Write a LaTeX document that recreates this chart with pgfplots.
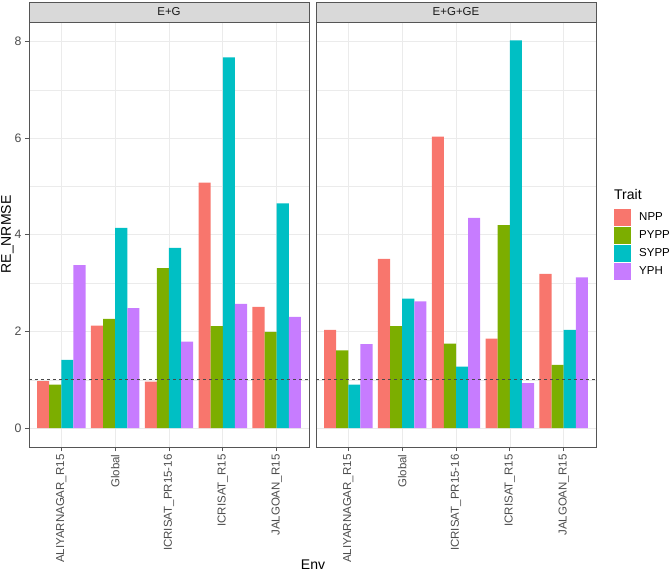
\documentclass[border=0pt]{standalone}
\usepackage{pgfplots}
\pgfplotsset{compat=1.18}
\usepackage{fontspec}
\setmainfont{Liberation Sans}
\definecolor{npp}{HTML}{F8766D}
\definecolor{pypp}{HTML}{7CAE00}
\definecolor{sypp}{HTML}{00BFC4}
\definecolor{yph}{HTML}{C77CFF}
\definecolor{tickgray}{HTML}{4D4D4D}
\definecolor{bordergray}{HTML}{555555}
\definecolor{dashgray}{HTML}{4A4A4A}
\definecolor{gridgray}{HTML}{EBEBEB}
\definecolor{stripgray}{HTML}{D9D9D9}
\definecolor{striptext}{HTML}{1A1A1A}
\pgfplotsset{
  panel/.style={
    scale only axis, width=280pt, height=425pt,
    xmin=0.4, xmax=5.6, ymin=-0.39, ymax=8.4,
    xtick={1,2,3,4,5},
    xticklabels={ALIYARNAGAR\_R15, Global, ICRISAT\_PR15-16, ICRISAT\_R15, JALGOAN\_R15},
    x tick label style={rotate=90, anchor=east, font=\fontsize{11.5}{12}\selectfont, text=tickgray},
    y tick label style={font=\fontsize{12.3}{13}\selectfont, text=tickgray},
    /pgf/number format/assume math mode=true,
    ytick={0,2,4,6,8}, minor ytick={1,3,5,7},
    xmajorgrids, ymajorgrids, yminorgrids,
    major grid style={gridgray, line width=0.7pt},
    minor grid style={gridgray, line width=0.35pt},
    axis line style={bordergray, line width=0.9pt},
    tick align=outside, major tick length=4pt, minor tick length=0pt,
    tick style={bordergray, line width=0.8pt},
    xtick pos=lower,
    ybar, bar width=0.225,
    clip=false,
  },
  bar1/.style={fill=npp, draw=none, bar shift=-0.3375},
  bar2/.style={fill=pypp, draw=none, bar shift=-0.1125},
  bar3/.style={fill=sypp, draw=none, bar shift=0.1125},
  bar4/.style={fill=yph, draw=none, bar shift=0.3375},
  refline/.style={sharp plot, forget plot, no marks, dashgray, line width=1pt, dash pattern=on 3pt off 3pt},
}
\begin{document}
\begin{tikzpicture}[x=1pt,y=1pt]
\useasboundingbox (0,0) rectangle (671,573);
% Left panel: E+G
\begin{axis}[panel, at={(29pt,126pt)}, anchor=south west,
  ytick pos=left,
  ylabel={RE\_NRMSE},
  ylabel style={at={(axis description cs:-0.0768,0.5)}, anchor=center, font=\fontsize{14}{16}\selectfont},
  xlabel={Env},
  xlabel style={at={(axis description cs:1.0143,-0.2776)}, anchor=center, font=\fontsize{14}{16}\selectfont},
]
\addplot[bar1] coordinates {(1,0.97) (2,2.12) (3,0.96) (4,5.08) (5,2.51)};
\addplot[bar2] coordinates {(1,0.90) (2,2.26) (3,3.31) (4,2.11) (5,1.99)};
\addplot[bar3] coordinates {(1,1.41) (2,4.14) (3,3.73) (4,7.67) (5,4.65)};
\addplot[bar4] coordinates {(1,3.37) (2,2.48) (3,1.79) (4,2.57) (5,2.30)};
\addplot[refline] coordinates {(0.4,1) (5.6,1)};
\draw[fill=stripgray, draw=bordergray, line width=0.9pt] (rel axis cs:0,1) rectangle (rel axis cs:1,1.04706);
\node[font=\fontsize{11.5}{12}\selectfont, text=striptext] at (rel axis cs:0.5,1.02353) {E+G};
\end{axis}
% Right panel: E+G+GE
\begin{axis}[panel, at={(316pt,126pt)}, anchor=south west,
  yticklabels={}, ytick style={draw=none},
  legend style={at={(rel axis cs:1.0643,0.56)}, anchor=north west, draw=none, fill=none,
    inner sep=0pt, row sep=1pt, column sep=8pt,
    font=\fontsize{11.5}{12}\selectfont, nodes={inner sep=0pt, anchor=west}},
  legend cell align=left,
  legend image code/.code={\fill[#1] (0pt,-8.5pt) rectangle (17pt,8.5pt);},
]
\addplot[bar1] coordinates {(1,2.03) (2,3.50) (3,6.03) (4,1.85) (5,3.19)};
\addplot[bar2] coordinates {(1,1.61) (2,2.11) (3,1.75) (4,4.20) (5,1.31)};
\addplot[bar3] coordinates {(1,0.90) (2,2.68) (3,1.27) (4,8.02) (5,2.03)};
\addplot[bar4] coordinates {(1,1.74) (2,2.62) (3,4.35) (4,0.93) (5,3.12)};
\legend{NPP, PYPP, SYPP, YPH}
\addplot[refline] coordinates {(0.4,1) (5.6,1)};
\draw[fill=stripgray, draw=bordergray, line width=0.9pt] (rel axis cs:0,1) rectangle (rel axis cs:1,1.04706);
\node[font=\fontsize{11.5}{12}\selectfont, text=striptext] at (rel axis cs:0.5,1.02353) {E+G+GE};
\node[anchor=west, font=\fontsize{14}{16}\selectfont, inner sep=0pt] at (rel axis cs:1.0643,0.593) {Trait};
\end{axis}
\end{tikzpicture}
\end{document}
